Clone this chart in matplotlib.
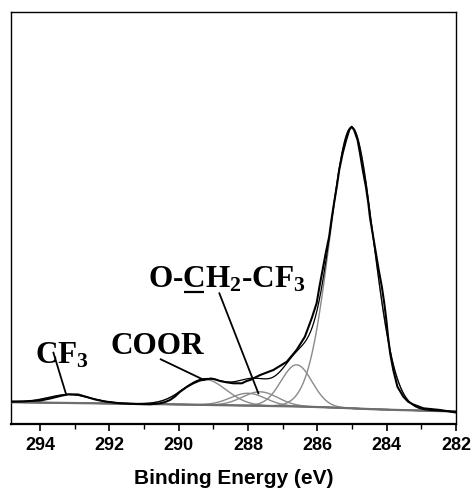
import numpy as np
import matplotlib
matplotlib.use("Agg")
import matplotlib.pyplot as plt

plt.rcParams['mathtext.fontset'] = 'custom'
plt.rcParams['mathtext.rm'] = 'Liberation Serif:bold'
plt.rcParams['mathtext.it'] = 'Liberation Serif:bold'
plt.rcParams['mathtext.bf'] = 'Liberation Serif:bold'
plt.rcParams['mathtext.default'] = 'rm'

# ---- data ----
energy = [294.84, 294.43, 294.29, 294.00, 293.71, 293.42, 293.19, 292.90, 292.70, 292.41,
          292.13, 291.69, 291.26, 290.83, 290.54, 290.39, 290.25, 290.11, 289.96, 289.77,
          289.58, 289.39, 289.19, 289.07, 288.95, 288.81, 288.62, 288.42, 288.18, 288.04,
          287.94, 287.65, 287.27, 286.88, 286.60, 286.36, 286.16, 286.02, 285.94, 285.85,
          285.76, 285.66, 285.59, 285.52, 285.44, 285.37, 285.27, 285.17, 285.08, 285.01,
          284.94, 284.84, 284.77, 284.69, 284.60, 284.53, 284.48, 284.39, 284.31, 284.23,
          284.14, 284.07, 284.01, 283.96, 283.90, 283.81, 283.69, 283.52, 283.38, 283.23,
          282.94, 282.46, 282.00]
intensity = [5.46, 5.51, 5.58, 5.70, 6.19, 6.80, 7.21, 7.16, 6.67, 5.95,
             5.46, 5.02, 4.85, 4.78, 5.02, 5.34, 5.83, 6.67, 7.84, 8.98,
             9.88, 10.56, 10.85, 11.04, 10.85, 10.44, 10.12, 9.88, 9.88, 10.44,
             10.68, 11.89, 13.11, 15.12, 17.96, 21.19, 25.73, 29.37, 33.33, 37.38,
             41.43, 45.46, 49.76, 53.57, 57.60, 61.65, 65.70, 68.93, 71.36, 72.16,
             71.36, 68.93, 65.70, 61.65, 57.60, 53.57, 50.00, 45.46, 41.43, 37.38,
             33.33, 29.30, 25.24, 21.12, 17.16, 13.11, 9.05, 6.63, 5.41, 4.73,
             3.81, 3.40, 2.79]

bg_energy = [294.84, 290.25, 286.50, 285.35, 284.19, 282.00]
bg_intensity = [5.29, 4.78, 4.25, 3.93, 3.52, 3.03]

peak_names = ['C-C', 'C-O', 'O-CH2-CF3', 'C=O', 'COOR', 'CF3']
peak_centers = [285.01, 286.60, 287.65, 288.00, 289.25, 293.15]
peak_heights = [68.2, 10.1, 3.4, 3.0, 6.2, 2.05]
peak_fwhm = [1.48, 1.05, 1.20, 1.20, 1.45, 1.45]

labels = ['CF$_3$', 'COOR', 'O-CH$_2$-CF$_3$']
underline_prefix = 'O-'
underline_char = 'C'

# ---- figure ----
fig = plt.figure(figsize=(4.75, 4.92), dpi=100)
ax = fig.add_axes([11/475, 68/492, 445/475, 412/492])

xg = np.linspace(282.0, 294.84, 800)
bg = np.interp(xg, bg_energy[::-1], bg_intensity[::-1])
env = bg.copy()
for c, h, w in zip(peak_centers, peak_heights, peak_fwhm):
    s = w / 2.3548
    comp = h * np.exp(-0.5 * ((xg - c) / s) ** 2)
    env += comp
    ax.plot(xg, bg + comp, color='#8a8a8a', lw=1.0, zorder=2)

ax.plot(bg_energy, bg_intensity, color='#6e6e6e', lw=1.6, zorder=3)
ax.plot(xg, env, color='black', lw=0.9, zorder=4)
ax.plot(energy, intensity, color='black', lw=1.5, zorder=5)

ax.set_xlim(294.84, 282.0)
ax.set_ylim(0, 100)

# labels and leader lines
tkw = dict(fontsize=22.5, fontfamily='Liberation Serif', fontweight='bold',
           ha='left', va='baseline', zorder=6)
ax.text(294.14, 14.73, labels[0], **tkw)
ax.text(291.98, 16.99, labels[1], **tkw)
x3, y3 = 290.88, 33.18
ax.text(x3, y3, labels[2], **tkw)

# underline under the C of CH2 (measured from the rendered text)
fig.canvas.draw()
r = fig.canvas.get_renderer()
t1 = ax.text(x3, y3, underline_prefix, **tkw)
t2 = ax.text(x3, y3, underline_prefix + underline_char, **tkw)
w1 = t1.get_window_extent(r).width
w2 = t2.get_window_extent(r).width
t1.remove(); t2.remove()
px0, py0 = ax.transData.transform((x3, y3))
inv = ax.transData.inverted()
ua = inv.transform((px0 + w1 + 1, py0 - 5))
ub = inv.transform((px0 + w2 - 1, py0 - 5))
ax.plot([ua[0], ub[0]], [ua[1], ub[1]], color='black', lw=1.6, zorder=6,
        solid_capstyle='butt')

lkw = dict(color='black', lw=1.3, zorder=6)
ax.plot([293.616, 293.259], [17.31, 7.45], **lkw)
ax.plot([290.519, 289.270], [15.70, 10.68], **lkw)
ax.plot([288.828, 287.703], [31.72, 7.45], **lkw)

ax.set_yticks([])
ax.set_xticks([294, 292, 290, 288, 286, 284, 282])
ax.set_xticks(np.arange(283, 295, 2), minor=True)
ax.tick_params(axis='x', which='major', direction='out', length=5, width=1.2, pad=4)
ax.tick_params(axis='x', which='minor', direction='out', length=3.5, width=1.0)
for lab in ax.get_xticklabels():
    lab.set_fontfamily('Liberation Sans')
    lab.set_fontweight('bold')
    lab.set_fontsize(13)
ax.set_xlabel('Binding Energy (eV)', fontfamily='Liberation Sans', fontweight='bold',
              fontsize=15, labelpad=11)
for side in ['top', 'left', 'right']:
    ax.spines[side].set_linewidth(1.0)
ax.spines['bottom'].set_linewidth(1.6)

fig.savefig('out.png', dpi=100)
